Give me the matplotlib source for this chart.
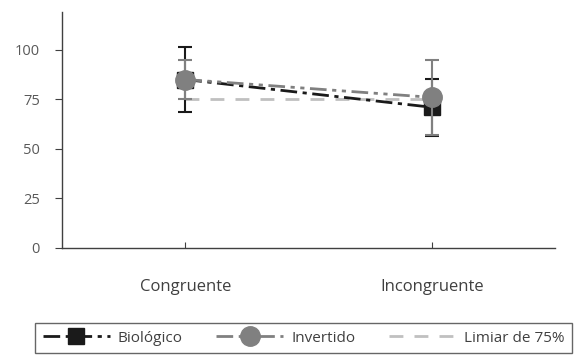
import matplotlib.pyplot as plt
import numpy as np

plt.rcParams['font.family'] = ['Open Sans', 'DejaVu Sans']

# condições e médias (%) com desvio padrão
condicoes = ["Congruente", "Incongruente"]
biologico = [85, 71]
biologico_dp = [16.5, 14.3]
invertido = [85, 76]
invertido_dp = [10, 19]
limiar = [75, 75]

x = np.arange(len(condicoes))

fig = plt.figure(figsize=(5.77, 3.64), dpi=100)
ax = fig.add_axes([0.1075, 0.3187, 0.8545, 0.648])

# linha de referência do limiar
l_lim, = ax.plot(x, limiar, color="#c0c0c0", lw=2, dashes=(5, 4), zorder=1,
                 label="Limiar de 75%")

# Biológico: preto, traço-ponto, quadrado
ax.errorbar(x, biologico, yerr=biologico_dp, fmt="none", ecolor="#1a1a1a",
            elinewidth=1.5, capsize=5, capthick=1.5, zorder=2)
l_bio, = ax.plot(x, biologico, color="#1a1a1a", lw=2, dashes=(6, 2, 1.5, 2),
                 marker="s", markersize=12, zorder=3, label="Biológico")

# Invertido: cinza, traço-ponto-ponto, círculo
ax.errorbar(x, invertido, yerr=invertido_dp, fmt="none", ecolor="#808080",
            elinewidth=1.5, capsize=5, capthick=1.5, zorder=4)
l_inv, = ax.plot(x, invertido, color="#808080", lw=2,
                 dashes=(6, 2, 1.5, 2, 1.5, 2), marker="o", markersize=14,
                 zorder=5, label="Invertido")

ax.set_xlim(-0.5, 1.5)
ax.set_ylim(0, 119)
ax.set_yticks([0, 25, 50, 75, 100])
ax.set_xticks(x)
ax.set_xticklabels(condicoes)

for s in ["top", "right"]:
    ax.spines[s].set_visible(False)
for s in ["left", "bottom"]:
    ax.spines[s].set_color("#404040")
    ax.spines[s].set_linewidth(1)

ax.tick_params(axis="y", direction="out", length=5, color="#404040",
               labelcolor="#595959", labelsize=10.5, pad=11)
ax.tick_params(axis="x", direction="in", length=4, color="#404040",
               labelcolor="#404040", labelsize=12, pad=22)

# legenda em caixa larga na parte de baixo
leg = fig.legend(handles=[l_bio, l_inv, l_lim], loc="upper left",
                 bbox_to_anchor=(0.061, 0.113, 0.93, 0.0), mode="expand",
                 ncol=3, frameon=True, fancybox=False, edgecolor="#404040",
                 fontsize=11, handlelength=4.4, handletextpad=0.5,
                 borderaxespad=0, borderpad=0.5, labelcolor="#404040")
leg.get_frame().set_linewidth(1)

fig.savefig("out.png", dpi=100)
